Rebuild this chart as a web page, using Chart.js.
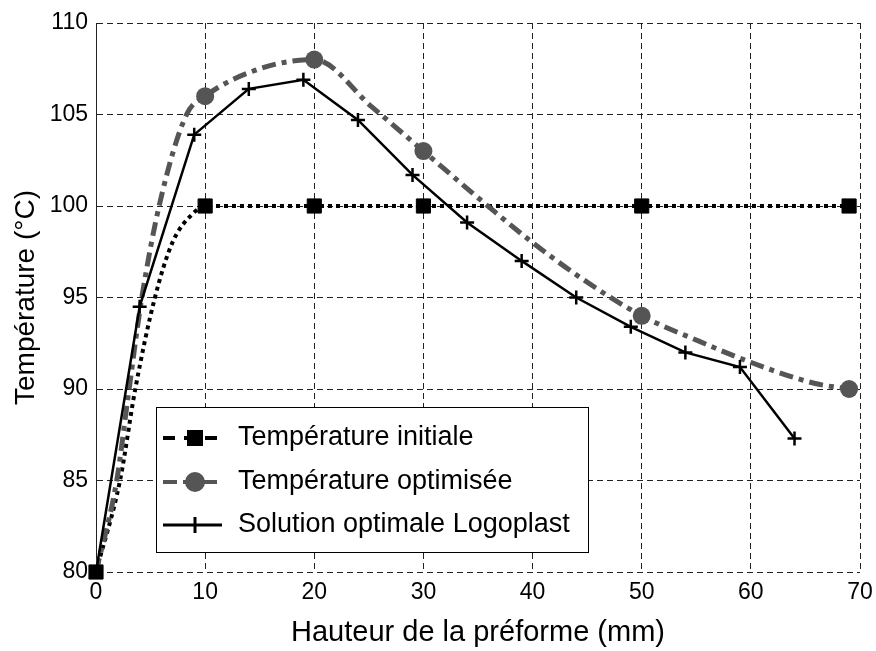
<!DOCTYPE html>
<html>
<head>
<meta charset="utf-8">
<script src="https://cdn.jsdelivr.net/npm/chart.js@4.4.1/dist/chart.umd.min.js"></script>
<style>
  html, body { margin: 0; padding: 0; background: #fff; }
  #wrap { width: 876px; height: 651px; position: relative; }
</style>
</head>
<body>
<div id="wrap"><canvas id="chart"></canvas></div>
<script>
const initCurveX = [0, 2.2, 3.6, 5.4, 7, 8.9, 10, 69];
const initCurveY = [80, 85, 90, 95, 98, 99.6, 100, 100];
const initMarkX = [0, 10, 20, 30, 50, 69];
const initMarkY = [80, 100, 100, 100, 100, 100];

// Température optimisée : courbe lue + marqueurs ronds
const optCurveX = [0, 1.9, 2.9, 4.2, 5.9, 8.3, 10, 15, 20, 25.3, 30, 36.3, 40, 44.6, 50, 55.3, 59.8, 65.9, 69];
const optCurveY = [80, 85, 89.4, 95, 100.3, 105, 106, 107.5, 108, 105.4, 103, 99.8, 98, 96, 94, 92.6, 91.5, 90.3, 90];
const optMarkX = [10, 20, 30, 50, 69];
const optMarkY = [106, 108, 103, 94, 90];

// Solution optimale Logoplast
const logoX = [0, 4, 9, 14, 19, 24, 29, 34, 39, 44, 49, 54, 59, 64];
const logoY = [80, 94.5, 103.9, 106.4, 106.9, 104.7, 101.7, 99.1, 97, 95, 93.4, 92, 91.2, 87.3];

const seriesNames = ['Température initiale', 'Température optimisée', 'Solution optimale Logoplast'];
const xTicks = [0, 10, 20, 30, 40, 50, 60, 70];
const yTicks = [80, 85, 90, 95, 100, 105, 110];

const GREY = '#555555';
const FONT = 'Liberation Sans, Arial, Helvetica, sans-serif';

const pts = (xs, ys) => xs.map((x, i) => ({ x: x, y: ys[i] }));

const legendPlugin = {
  id: 'matlabLegend',
  afterDatasetsDraw(chart) {
    const ctx = chart.ctx;
    const bx = 156, by = 407, bw = 432, bh = 145;
    ctx.save();
    ctx.fillStyle = '#fff';
    ctx.fillRect(bx, by, bw, bh);
    ctx.strokeStyle = '#000';
    ctx.lineWidth = 1;
    ctx.strokeRect(bx + 0.5, by + 0.5, bw, bh);

    const rows = [438, 482, 525];
    const x0 = 163, x1 = 222, xm = 195;
    // ligne 1 : tirets noirs + carré
    ctx.strokeStyle = '#000';
    ctx.lineWidth = 4;
    ctx.setLineDash([12, 9]);
    ctx.beginPath(); ctx.moveTo(x0, rows[0]); ctx.lineTo(x1, rows[0]); ctx.stroke();
    ctx.setLineDash([]);
    ctx.fillStyle = '#000';
    ctx.fillRect(xm - 8, rows[0] - 8, 16, 16);
    // ligne 2 : gris + rond
    ctx.strokeStyle = GREY;
    ctx.lineWidth = 4;
    ctx.setLineDash([14, 6]);
    ctx.beginPath(); ctx.moveTo(x0, rows[1]); ctx.lineTo(x1, rows[1]); ctx.stroke();
    ctx.setLineDash([]);
    ctx.fillStyle = GREY;
    ctx.beginPath(); ctx.arc(xm, rows[1], 10, 0, Math.PI * 2); ctx.fill();
    // ligne 3 : trait plein + croix
    ctx.strokeStyle = '#000';
    ctx.lineWidth = 3;
    ctx.beginPath(); ctx.moveTo(x0, rows[2]); ctx.lineTo(x1, rows[2]); ctx.stroke();
    ctx.beginPath();
    ctx.moveTo(xm, rows[2] - 8); ctx.lineTo(xm, rows[2] + 8);
    ctx.stroke();

    ctx.fillStyle = '#000';
    ctx.font = '27px ' + FONT;
    ctx.textBaseline = 'middle';
    ctx.textAlign = 'left';
    seriesNames.forEach((n, i) => ctx.fillText(n, 238, rows[i]));
    ctx.restore();
  }
};

new Chart(document.getElementById('chart'), {
  type: 'scatter',
  data: {
    datasets: [
      {
        data: pts(initCurveX, initCurveY), showLine: true, pointRadius: 0,
        borderColor: '#000', borderWidth: 4, borderDash: [4, 4],
        cubicInterpolationMode: 'monotone', order: 5
      },
      {
        data: pts(optCurveX, optCurveY), showLine: true, pointRadius: 0,
        borderColor: GREY, borderWidth: 5, borderDash: [14, 6, 5, 6],
        cubicInterpolationMode: 'monotone', order: 4
      },
      {
        data: pts(logoX, logoY), showLine: true, tension: 0,
        borderColor: '#000', borderWidth: 2.5,
        pointStyle: 'cross', pointRadius: 7, pointBorderWidth: 2.5,
        pointBorderColor: '#000', order: 3, clip: false
      },
      {
        data: pts(optMarkX, optMarkY), showLine: false,
        pointStyle: 'circle', pointRadius: 9, pointBorderWidth: 0,
        pointBackgroundColor: GREY, order: 2, clip: false
      },
      {
        data: pts(initMarkX, initMarkY), showLine: false,
        pointStyle: 'rect', pointRadius: 10, pointBorderWidth: 1,
        pointBackgroundColor: '#000', pointBorderColor: '#000', order: 1, clip: false
      }
    ]
  },
  options: {
    responsive: true,
    maintainAspectRatio: false,
    animation: false,
    events: [],
    layout: { padding: { top: 23, right: 16, left: 0, bottom: 0 } },
    plugins: { legend: { display: false }, tooltip: { enabled: false } },
    scales: {
      x: {
        type: 'linear', min: 0, max: 70,
        afterFit: s => { s.height = 79; s.paddingLeft = 0; s.paddingRight = 0; },
        afterBuildTicks: s => { s.ticks = xTicks.map(v => ({ value: v })); },
        grid: { color: '#222', lineWidth: 1, drawTicks: false },
        border: { display: false, dash: [6, 4] },
        ticks: { color: '#000', font: { family: FONT, size: 23 }, padding: 7, maxRotation: 0 },
        title: { display: true, text: 'Hauteur de la préforme (mm)', color: '#000',
                 font: { family: FONT, size: 29 }, padding: { top: 4, bottom: 1 } }
      },
      y: {
        type: 'linear', min: 80, max: 110,
        afterFit: s => { s.width = 96; s.paddingTop = 0; s.paddingBottom = 0; },
        afterBuildTicks: s => { s.ticks = yTicks.map(v => ({ value: v })); },
        grid: { color: '#222', lineWidth: 1, drawTicks: false },
        border: { display: true, color: '#222', width: 1, dash: [6, 4] },
        ticks: { color: '#000', font: { family: FONT, size: 23 }, padding: 8 },
        title: { display: true, text: 'Température (°C)', color: '#000',
                 font: { family: FONT, size: 28 }, padding: { top: 9, bottom: 4 } }
      }
    }
  },
  plugins: [legendPlugin]
});
</script>
</body>
</html>
